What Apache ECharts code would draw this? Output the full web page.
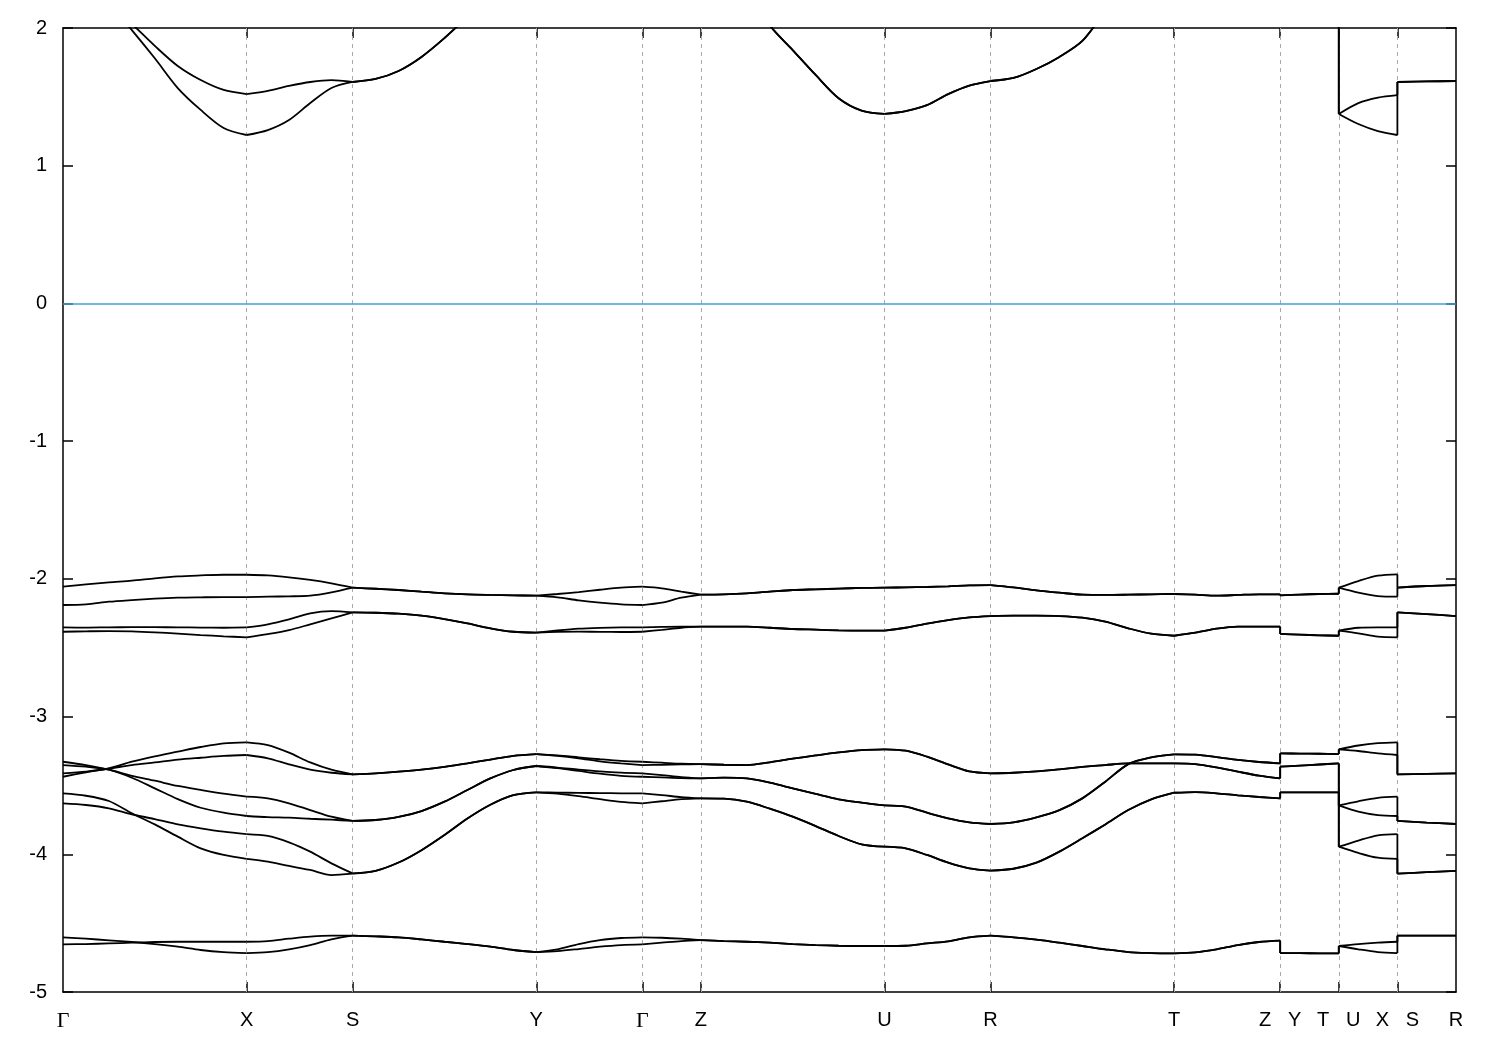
<!DOCTYPE html>
<html><head><meta charset="utf-8">
<script src="https://cdn.jsdelivr.net/npm/echarts@6/dist/echarts.min.js"></script>
<style>html,body{margin:0;padding:0;background:#fff}#chart{width:1500px;height:1050px}</style>
</head><body><div id="chart"></div>
<script>
// k-path coordinates (duplicated points mark path discontinuities Z|Y, T|U, X|S)
const kPoints = [
  0, 22.95, 45.9, 68.85, 91.8, 114.75, 137.7, 160.65, 183.6,
  204.8, 226, 247.2, 268.4, 289.6,
  312.55, 335.5, 358.45, 381.4, 404.35, 427.3, 450.25, 473.2,
  494.4, 515.6, 536.8, 558, 579.2,
  598.73, 618.27, 637.8,
  660.75, 683.7, 706.65, 729.6, 752.55, 775.5, 798.45, 821.4,
  842.6, 863.8, 885, 906.2, 927.4,
  950.35, 973.3, 996.25, 1019.2, 1042.15, 1065.1, 1088.05, 1111,
  1132.2, 1153.4, 1174.6, 1195.8, 1217,
  1217,
  1236.53, 1256.07, 1275.6,
  1275.6,
  1295.13, 1314.67, 1334.2,
  1334.2,
  1363.5, 1392.8
];
const tickPositions = [0, 183.6, 289.6, 473.2, 579.2, 637.8, 821.4, 927.4, 1111, 1217, 1275.6, 1334.2, 1392.8];
const tickLabels = ['Γ', 'X', 'S', 'Y', 'Γ', 'Z', 'U', 'R', 'T', 'Z   Y', 'T   U', 'X   S', 'R'];
const fermiLevel = 0;

const bandC1 = [2.6,2.4,2.18,1.985,1.78,1.564,1.405,1.274,1.223,
  1.259,1.332,1.455,1.564,1.608,
  1.63,1.688,1.79,1.927,2.08,2.22,2.32,2.38,
  2.45,2.5,2.55,2.6,2.6,
  2.6,2.6,2.6,
  2.5,2.3,2.02,1.84,1.659,1.49,1.40,1.376,
  1.397,1.44,1.52,1.582,1.615,
  1.637,1.702,1.79,1.906,2.12,2.3,2.4,2.45,
  2.5,2.55,2.6,2.6,2.6,
  2.6,
  2.6,2.6,2.6,
  1.376,
  1.303,1.252,1.223,
  1.608,
  1.612,1.615];
const bandC2 = [2.5,2.35,2.18,2.03,1.87,1.724,1.622,1.55,1.52,
  1.543,1.579,1.608,1.622,1.608,
  1.63,1.688,1.79,1.927,2.08,2.22,2.32,2.38,
  2.45,2.5,2.55,2.6,2.6,
  2.6,2.6,2.6,
  2.5,2.3,2.02,1.84,1.659,1.49,1.40,1.376,
  1.397,1.44,1.52,1.582,1.615,
  1.637,1.702,1.79,1.906,2.12,2.3,2.4,2.45,
  2.5,2.55,2.6,2.6,2.6,
  2.6,
  2.6,2.6,2.6,
  1.376,
  1.455,1.495,1.513,
  1.608,
  1.612,1.615];
const bandA = [-2.057,-2.04,-2.025,-2.013,-1.996,-1.982,-1.975,-1.97,-1.97,
  -1.975,-1.989,-2.008,-2.033,-2.064,
  -2.072,-2.081,-2.093,-2.105,-2.113,-2.117,-2.12,-2.122,
  -2.11,-2.096,-2.079,-2.064,-2.057,
  -2.069,-2.093,-2.115,
  -2.112,-2.105,-2.093,-2.081,-2.076,-2.071,-2.066,-2.064,
  -2.062,-2.059,-2.054,-2.047,-2.045,
  -2.062,-2.083,-2.1,-2.115,-2.117,-2.115,-2.112,-2.11,
  -2.115,-2.122,-2.117,-2.112,-2.112,
  -2.12,
  -2.114,-2.11,-2.108,
  -2.064,
  -2.016,-1.977,-1.967,
  -2.064,
  -2.052,-2.045];
const bandB = [-2.19,-2.185,-2.166,-2.154,-2.144,-2.137,-2.134,-2.132,-2.132,
  -2.129,-2.127,-2.122,-2.098,-2.064,
  -2.072,-2.081,-2.093,-2.105,-2.113,-2.117,-2.12,-2.122,
  -2.134,-2.156,-2.173,-2.185,-2.19,
  -2.173,-2.137,-2.115,
  -2.112,-2.105,-2.093,-2.081,-2.076,-2.071,-2.066,-2.064,
  -2.062,-2.059,-2.054,-2.047,-2.045,
  -2.062,-2.083,-2.1,-2.115,-2.117,-2.115,-2.112,-2.11,
  -2.115,-2.122,-2.117,-2.112,-2.112,
  -2.12,
  -2.114,-2.11,-2.108,
  -2.064,
  -2.1,-2.125,-2.129,
  -2.064,
  -2.052,-2.045];
const bandC = [-2.352,-2.354,-2.352,-2.351,-2.351,-2.352,-2.354,-2.355,-2.353,
  -2.33,-2.294,-2.25,-2.234,-2.243,
  -2.246,-2.253,-2.267,-2.292,-2.323,-2.359,-2.384,-2.391,
  -2.375,-2.362,-2.356,-2.353,-2.352,
  -2.349,-2.347,-2.347,
  -2.347,-2.347,-2.355,-2.364,-2.369,-2.374,-2.376,-2.376,
  -2.355,-2.325,-2.299,-2.279,-2.27,
  -2.267,-2.267,-2.27,-2.282,-2.311,-2.359,-2.398,-2.413,
  -2.391,-2.362,-2.347,-2.347,-2.347,
  -2.40,
  -2.405,-2.41,-2.413,
  -2.376,
  -2.355,-2.352,-2.352,
  -2.243,
  -2.256,-2.27];
const bandD = [-2.384,-2.381,-2.379,-2.381,-2.388,-2.398,-2.408,-2.417,-2.425,
  -2.401,-2.372,-2.33,-2.287,-2.243,
  -2.246,-2.253,-2.267,-2.292,-2.323,-2.359,-2.384,-2.391,
  -2.385,-2.383,-2.385,-2.386,-2.384,
  -2.37,-2.355,-2.347,
  -2.347,-2.347,-2.355,-2.364,-2.369,-2.374,-2.376,-2.376,
  -2.355,-2.325,-2.299,-2.279,-2.27,
  -2.267,-2.267,-2.27,-2.282,-2.311,-2.359,-2.398,-2.413,
  -2.391,-2.362,-2.347,-2.347,-2.347,
  -2.40,
  -2.405,-2.41,-2.413,
  -2.376,
  -2.396,-2.42,-2.425,
  -2.243,
  -2.256,-2.27];
const bandP1 = [-3.437,-3.405,-3.376,-3.328,-3.289,-3.255,-3.221,-3.194,-3.187,
  -3.207,-3.262,-3.333,-3.386,-3.42,
  -3.412,-3.40,-3.385,-3.365,-3.34,-3.312,-3.285,-3.272,
  -3.282,-3.296,-3.31,-3.322,-3.328,
  -3.335,-3.342,-3.345,
  -3.35,-3.352,-3.332,-3.306,-3.282,-3.26,-3.243,-3.238,
  -3.248,-3.291,-3.347,-3.398,-3.412,
  -3.408,-3.398,-3.383,-3.366,-3.352,-3.34,-3.34,-3.34,
  -3.345,-3.369,-3.40,-3.429,-3.449,
  -3.364,
  -3.356,-3.348,-3.34,
  -3.645,
  -3.615,-3.59,-3.582,
  -3.758,
  -3.77,-3.78];
const bandP2 = [-3.412,-3.40,-3.378,-3.352,-3.333,-3.313,-3.299,-3.286,-3.279,
  -3.303,-3.347,-3.386,-3.408,-3.42,
  -3.412,-3.40,-3.385,-3.365,-3.34,-3.312,-3.285,-3.272,
  -3.285,-3.303,-3.325,-3.34,-3.352,
  -3.35,-3.347,-3.345,
  -3.35,-3.352,-3.332,-3.306,-3.282,-3.26,-3.243,-3.238,
  -3.248,-3.291,-3.347,-3.398,-3.412,
  -3.408,-3.398,-3.383,-3.366,-3.352,-3.34,-3.34,-3.34,
  -3.345,-3.369,-3.40,-3.429,-3.449,
  -3.364,
  -3.356,-3.348,-3.34,
  -3.645,
  -3.69,-3.715,-3.722,
  -3.758,
  -3.77,-3.78];
const bandQ1 = [-3.328,-3.352,-3.386,-3.43,-3.466,-3.504,-3.533,-3.56,-3.582,
  -3.594,-3.63,-3.679,-3.727,-3.758,
  -3.751,-3.729,-3.686,-3.618,-3.533,-3.449,-3.388,-3.359,
  -3.37,-3.385,-3.398,-3.407,-3.412,
  -3.425,-3.44,-3.449,
  -3.444,-3.449,-3.48,-3.521,-3.562,-3.601,-3.625,-3.645,
  -3.654,-3.698,-3.739,-3.768,-3.78,
  -3.768,-3.732,-3.679,-3.594,-3.473,-3.345,-3.296,-3.274,
  -3.277,-3.294,-3.315,-3.33,-3.34,
  -3.267,
  -3.269,-3.27,-3.272,
  -3.238,
  -3.21,-3.193,-3.187,
  -3.42,
  -3.416,-3.412];
const bandQ2 = [-3.352,-3.364,-3.386,-3.444,-3.521,-3.599,-3.662,-3.698,-3.722,
  -3.73,-3.734,-3.742,-3.749,-3.758,
  -3.751,-3.729,-3.686,-3.618,-3.533,-3.449,-3.388,-3.359,
  -3.375,-3.395,-3.415,-3.43,-3.437,
  -3.442,-3.447,-3.449,
  -3.444,-3.449,-3.48,-3.521,-3.562,-3.601,-3.625,-3.645,
  -3.654,-3.698,-3.739,-3.768,-3.78,
  -3.768,-3.732,-3.679,-3.594,-3.473,-3.345,-3.296,-3.274,
  -3.277,-3.294,-3.315,-3.33,-3.34,
  -3.267,
  -3.269,-3.27,-3.272,
  -3.238,
  -3.25,-3.268,-3.279,
  -3.42,
  -3.416,-3.412];
const bandR1 = [-3.558,-3.575,-3.613,-3.703,-3.783,-3.872,-3.957,-4.005,-4.034,
  -4.054,-4.085,-4.114,-4.151,-4.141,
  -4.12,-4.06,-3.97,-3.86,-3.74,-3.64,-3.57,-3.55,
  -3.552,-3.554,-3.556,-3.557,-3.558,
  -3.57,-3.585,-3.594,
  -3.596,-3.618,-3.669,-3.727,-3.795,-3.867,-3.928,-3.945,
  -3.957,-4.005,-4.061,-4.102,-4.119,
  -4.105,-4.061,-3.981,-3.884,-3.783,-3.679,-3.601,-3.553,
  -3.548,-3.557,-3.572,-3.584,-3.594,
  -3.55,
  -3.55,-3.55,-3.55,
  -3.945,
  -3.99,-4.025,-4.034,
  -4.141,
  -4.13,-4.12];
const bandR2 = [-3.63,-3.642,-3.666,-3.71,-3.744,-3.783,-3.812,-3.836,-3.853,
  -3.867,-3.913,-3.981,-4.066,-4.139,
  -4.12,-4.06,-3.97,-3.86,-3.74,-3.64,-3.57,-3.55,
  -3.56,-3.578,-3.60,-3.62,-3.63,
  -3.615,-3.60,-3.594,
  -3.596,-3.618,-3.669,-3.727,-3.795,-3.867,-3.928,-3.945,
  -3.957,-4.005,-4.061,-4.102,-4.119,
  -4.105,-4.061,-3.981,-3.884,-3.783,-3.679,-3.601,-3.553,
  -3.548,-3.557,-3.572,-3.584,-3.594,
  -3.55,
  -3.55,-3.55,-3.55,
  -3.945,
  -3.90,-3.862,-3.853,
  -4.141,
  -4.13,-4.12];
const bandE1 = [-4.603,-4.613,-4.625,-4.637,-4.652,-4.671,-4.695,-4.71,-4.717,
  -4.71,-4.69,-4.659,-4.618,-4.591,
  -4.596,-4.603,-4.618,-4.635,-4.652,-4.671,-4.695,-4.71,
  -4.69,-4.652,-4.623,-4.608,-4.603,
  -4.606,-4.613,-4.623,
  -4.63,-4.635,-4.642,-4.652,-4.659,-4.664,-4.666,-4.666,
  -4.664,-4.647,-4.632,-4.603,-4.591,
  -4.603,-4.62,-4.642,-4.666,-4.69,-4.71,-4.717,-4.72,
  -4.712,-4.69,-4.659,-4.637,-4.627,
  -4.717,
  -4.718,-4.719,-4.72,
  -4.666,
  -4.652,-4.642,-4.635,
  -4.591,
  -4.591,-4.591];
const bandE2 = [-4.654,-4.652,-4.647,-4.642,-4.637,-4.635,-4.635,-4.635,-4.635,
  -4.63,-4.613,-4.598,-4.591,-4.591,
  -4.596,-4.603,-4.618,-4.635,-4.652,-4.671,-4.695,-4.71,
  -4.703,-4.688,-4.671,-4.659,-4.654,
  -4.642,-4.63,-4.623,
  -4.63,-4.635,-4.642,-4.652,-4.659,-4.664,-4.666,-4.666,
  -4.664,-4.647,-4.632,-4.603,-4.591,
  -4.603,-4.62,-4.642,-4.666,-4.69,-4.71,-4.717,-4.72,
  -4.712,-4.69,-4.659,-4.637,-4.627,
  -4.717,
  -4.718,-4.719,-4.72,
  -4.666,
  -4.69,-4.71,-4.717,
  -4.591,
  -4.591,-4.591];

const bands = [bandE1, bandE2, bandR1, bandR2, bandQ1, bandQ2, bandP1, bandP2,
               bandD, bandC, bandB, bandA, bandC1, bandC2];
const kMax = tickPositions[tickPositions.length - 1];
const innerTicks = tickPositions.slice(1, -1);

const chart = echarts.init(document.getElementById('chart'), null, {renderer: 'canvas'});
const axisLineStyle = {color: '#000', width: 1.5};
const labelFont = 'Liberation Sans, Arial, sans-serif';

function xLabel(v) {
  const i = tickPositions.findIndex(p => Math.abs(p - v) < 1e-6);
  if (i < 0) return '';
  const t = tickLabels[i];
  return t === 'Γ' ? '{g|Γ}' : t;
}
function isTick(k) { return tickPositions.some(p => Math.abs(p - k) < 1e-6); }

// Split the path into pieces: smooth curves between high-symmetry points,
// straight vertical connectors at path discontinuities.
const pieces = [];
let start = 0;
for (let i = 1; i < kPoints.length; i++) {
  if (kPoints[i] === kPoints[i - 1]) {
    pieces.push({from: i - 1, to: i, smooth: false});
    start = i;
  } else if (isTick(kPoints[i])) {
    pieces.push({from: start, to: i, smooth: true});
    start = i;
  }
}

const series = [{
  type: 'line', data: [], silent: true, z: 1, symbol: 'none',
  markLine: {
    silent: true, symbol: 'none', animation: false,
    label: {show: false},
    lineStyle: {color: '#aaaaaa', width: 1, type: [4, 4]},
    data: innerTicks.map(k => ({xAxis: k}))
  }
}, {
  type: 'line', data: [], silent: true, z: 2, symbol: 'none',
  markLine: {
    silent: true, symbol: 'none', animation: false,
    label: {show: false},
    lineStyle: {color: '#3fa3d9', width: 1.5, type: 'solid'},
    data: [{yAxis: fermiLevel}]
  }
}];
bands.forEach(b => {
  pieces.forEach(pc => {
    const d = [];
    for (let i = pc.from; i <= pc.to; i++) d.push([kPoints[i], b[i]]);
    series.push({
      type: 'line', silent: true, z: 5, symbol: 'none', showSymbol: false,
      clip: true, smooth: pc.smooth ? 0.3 : false,
      lineStyle: {color: '#000', width: 1.8},
      data: d
    });
  });
});

chart.setOption({
  animation: false,
  backgroundColor: '#fff',
  grid: {left: 63, right: 44, top: 28, bottom: 58},
  xAxis: [{
    type: 'value', min: 0, max: kMax, position: 'bottom',
    axisLine: {show: true, onZero: false, lineStyle: axisLineStyle},
    axisTick: {show: true, inside: true, length: 10, customValues: innerTicks, lineStyle: axisLineStyle},
    axisLabel: {
      show: true, customValues: tickPositions, formatter: xLabel,
      color: '#000', fontFamily: labelFont, fontSize: 20, margin: 18,
      rich: {g: {fontFamily: 'Liberation Serif, DejaVu Serif, serif', fontSize: 22, color: '#000'}}
    },
    splitLine: {show: false}
  }, {
    type: 'value', min: 0, max: kMax, position: 'top',
    axisLine: {show: true, onZero: false, lineStyle: axisLineStyle},
    axisTick: {show: true, inside: true, length: 10, customValues: innerTicks, lineStyle: axisLineStyle},
    axisLabel: {show: false},
    splitLine: {show: false}
  }],
  yAxis: [{
    type: 'value', min: -5, max: 2, interval: 1, position: 'left',
    axisLine: {show: true, onZero: false, lineStyle: axisLineStyle},
    axisTick: {show: true, inside: true, length: 10, lineStyle: axisLineStyle},
    axisLabel: {color: '#000', fontFamily: labelFont, fontSize: 20, margin: 16},
    splitLine: {show: false}
  }, {
    type: 'value', min: -5, max: 2, interval: 1, position: 'right',
    axisLine: {show: true, onZero: false, lineStyle: axisLineStyle},
    axisTick: {show: true, inside: true, length: 10, lineStyle: axisLineStyle},
    axisLabel: {show: false},
    splitLine: {show: false}
  }],
  series: series
});
</script>
</body></html>
